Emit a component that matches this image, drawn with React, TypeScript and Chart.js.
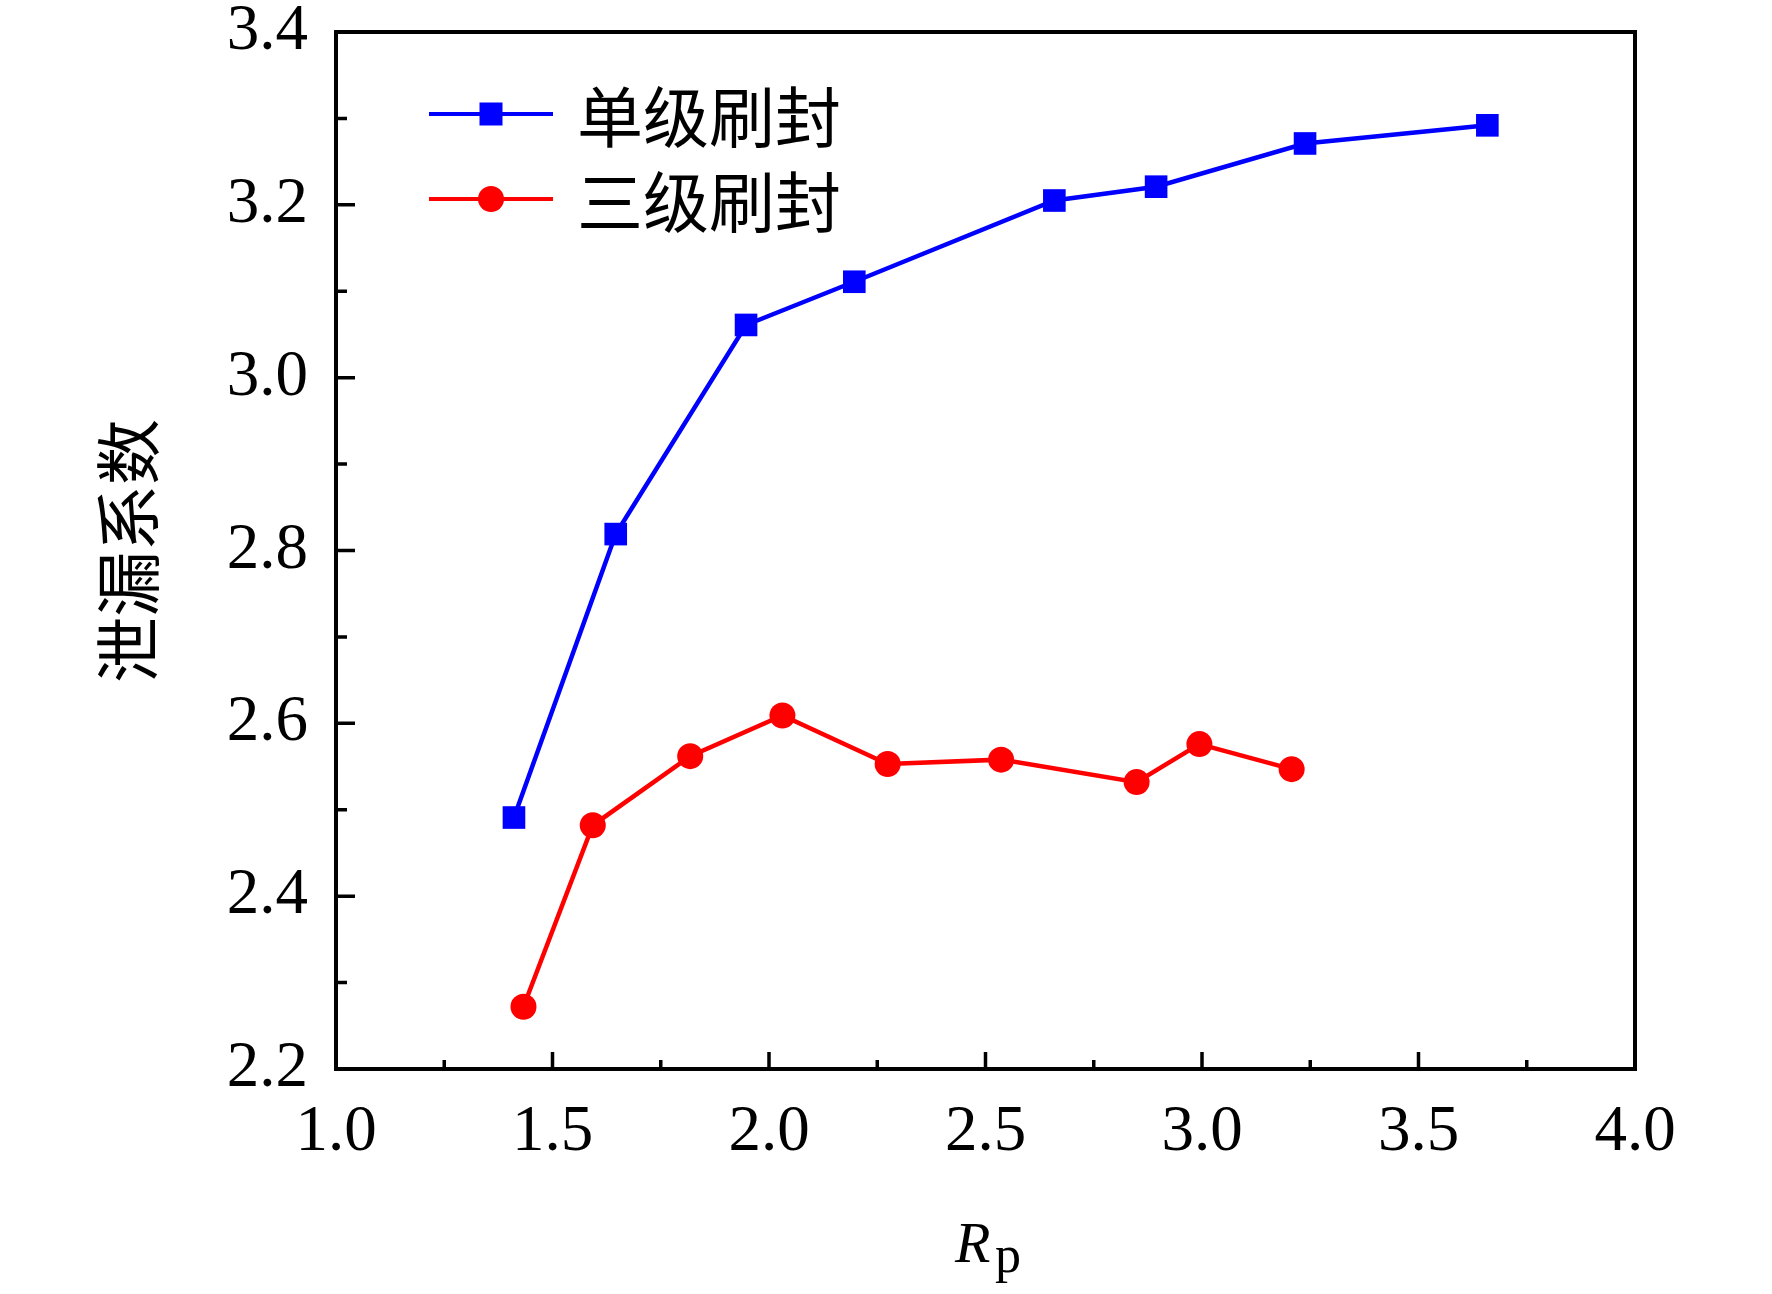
import { useEffect, useRef } from "react"
import { Chart, registerables } from "chart.js"

Chart.register(...registerables)

// Rp values and leakage coefficients
const singleRp = [1.411, 1.646, 1.947, 2.197, 2.659, 2.894, 3.238, 3.659]
const singleLeak = [2.491, 2.819, 3.061, 3.111, 3.205, 3.221, 3.271, 3.292]
const tripleRp = [1.433, 1.593, 1.818, 2.031, 2.274, 2.536, 2.849, 2.994, 3.207]
const tripleLeak = [2.272, 2.482, 2.562, 2.609, 2.553, 2.558, 2.532, 2.576, 2.547]

const seriesNames = ["单级刷封", "三级刷封"]
const yTitle = "泄漏系数"

const serif = "'Liberation Serif', 'Times New Roman', serif"
const cjk = "'Noto Sans CJK SC', 'Noto Sans CJK JP', sans-serif"

const toPoints = (xs: number[], ys: number[]) => xs.map((x, i) => ({ x, y: ys[i] }))

// box around the plot + inward ticks (major and minor)
const frameAndTicks = {
  id: "frameAndTicks",
  afterDatasetsDraw(chart: any) {
    const { ctx, chartArea: a, scales } = chart
    const xs = scales.x
    const ys = scales.y
    ctx.save()
    ctx.strokeStyle = "#000"
    ctx.lineWidth = 3.5
    ctx.lineCap = "butt"

    const xMajor = xs.ticks.map((t: any) => t.value)
    ctx.beginPath()
    xMajor.forEach((v: number, i: number) => {
      const px = xs.getPixelForValue(v)
      ctx.moveTo(px, a.bottom)
      ctx.lineTo(px, a.bottom - 17)
      if (i < xMajor.length - 1) {
        const mx = xs.getPixelForValue((v + xMajor[i + 1]) / 2)
        ctx.moveTo(mx, a.bottom)
        ctx.lineTo(mx, a.bottom - 9)
      }
    })
    const yMajor = ys.ticks.map((t: any) => t.value)
    yMajor.forEach((v: number, i: number) => {
      const py = ys.getPixelForValue(v)
      ctx.moveTo(a.left, py)
      ctx.lineTo(a.left + 19, py)
      if (i < yMajor.length - 1) {
        const my = ys.getPixelForValue((v + yMajor[i + 1]) / 2)
        ctx.moveTo(a.left, my)
        ctx.lineTo(a.left + 11, my)
      }
    })
    ctx.stroke()

    ctx.lineWidth = 4
    ctx.strokeRect(a.left, a.top, a.right - a.left, a.bottom - a.top)
    ctx.restore()
  },
}

// axis titles and the legend inside the plot
const annotations = {
  id: "annotations",
  afterDraw(chart: any) {
    const { ctx } = chart
    ctx.save()
    ctx.fillStyle = "#000"

    // y title, reading bottom to top
    ctx.save()
    ctx.translate(128, 551)
    ctx.rotate(-Math.PI / 2)
    ctx.font = `66px ${cjk}`
    ctx.textAlign = "center"
    ctx.textBaseline = "middle"
    ctx.fillText(yTitle, 0, 0)
    ctx.restore()

    // x title: italic R with subscript p
    ctx.textAlign = "left"
    ctx.textBaseline = "alphabetic"
    ctx.font = `italic 58px ${serif}`
    ctx.fillText("R", 955, 1262)
    ctx.font = `52px ${serif}`
    ctx.fillText("p", 995, 1272)

    // legend
    const rows = [
      { y: 114, color: "#0000ff", shape: "rect" },
      { y: 199, color: "#ff0000", shape: "circle" },
    ]
    rows.forEach((r, i) => {
      ctx.strokeStyle = r.color
      ctx.fillStyle = r.color
      ctx.lineWidth = 4
      ctx.beginPath()
      ctx.moveTo(429, r.y)
      ctx.lineTo(553, r.y)
      ctx.stroke()
      if (r.shape === "rect") {
        ctx.fillRect(491 - 11.5, r.y - 11.5, 23, 23)
      } else {
        ctx.beginPath()
        ctx.arc(491, r.y, 13, 0, Math.PI * 2)
        ctx.fill()
      }
      ctx.fillStyle = "#000"
      ctx.font = `66px ${cjk}`
      ctx.textBaseline = "middle"
      ctx.fillText(seriesNames[i], 577, r.y + 3)
    })
    ctx.restore()
  },
}

export default function App() {
  const chartRef = useRef<HTMLCanvasElement>(null)
  const chartInstance = useRef<Chart | null>(null)

  useEffect(() => {
    if (!chartRef.current) return
    if (chartInstance.current) chartInstance.current.destroy()
    const ctx = chartRef.current.getContext("2d")
    if (!ctx) return

    chartInstance.current = new Chart(ctx, {
      type: "line",
      data: {
        datasets: [
          {
            label: seriesNames[0],
            data: toPoints(singleRp, singleLeak),
            borderColor: "#0000ff",
            backgroundColor: "#0000ff",
            borderWidth: 4.5,
            pointStyle: "rect",
            pointRadius: 16,
            pointBorderWidth: 0,
            tension: 0,
          },
          {
            label: seriesNames[1],
            data: toPoints(tripleRp, tripleLeak),
            borderColor: "#ff0000",
            backgroundColor: "#ff0000",
            borderWidth: 4.5,
            pointStyle: "circle",
            pointRadius: 13,
            pointBorderWidth: 0,
            tension: 0,
          },
        ],
      },
      options: {
        responsive: false,
        animation: false,
        devicePixelRatio: 1,
        layout: { padding: { left: 0, top: 32, right: 137, bottom: 0 } },
        plugins: {
          legend: { display: false },
          tooltip: { enabled: false },
        },
        scales: {
          x: {
            type: "linear",
            min: 1,
            max: 4,
            grid: { display: false, drawTicks: false },
            border: { display: false },
            ticks: {
              stepSize: 0.5,
              padding: 31,
              color: "#000",
              font: { family: serif, size: 65, lineHeight: 1 },
              callback: (v: any) => Number(v).toFixed(1),
            },
            afterFit: (s: any) => {
              s.height = 225
              s.paddingLeft = 0
              s.paddingRight = 0
            },
          },
          y: {
            min: 2.2,
            max: 3.4,
            grid: { display: false, drawTicks: false },
            border: { display: false },
            ticks: {
              stepSize: 0.2,
              padding: 28,
              color: "#000",
              font: { family: serif, size: 65, lineHeight: 1 },
              callback: (v: any) => Number(v).toFixed(1),
            },
            afterFit: (s: any) => {
              s.width = 336
              s.paddingTop = 0
              s.paddingBottom = 0
            },
          },
        },
      },
      plugins: [frameAndTicks, annotations],
    })

    return () => {
      if (chartInstance.current) {
        chartInstance.current.destroy()
        chartInstance.current = null
      }
    }
  }, [])

  return (
    <div style={{ position: "absolute", left: 0, top: 0, width: 1772, height: 1294, background: "#fff" }}>
      <canvas ref={chartRef} width={1772} height={1294} />
    </div>
  )
}
